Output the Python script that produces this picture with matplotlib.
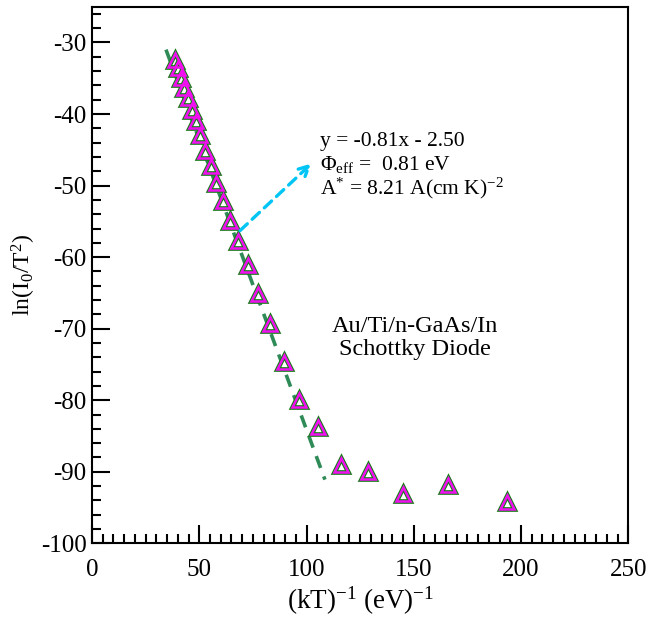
import matplotlib
matplotlib.use("Agg")
import matplotlib.pyplot as plt
from matplotlib.ticker import MultipleLocator

plt.rcParams["font.family"] = ["Liberation Serif", "DejaVu Serif"]
plt.rcParams["mathtext.fontset"] = "custom"
plt.rcParams["mathtext.rm"] = "Liberation Serif"
plt.rcParams["mathtext.it"] = "Liberation Serif:italic"
plt.rcParams["axes.unicode_minus"] = False

# (kT)^-1 in (eV)^-1
inv_kt = [38.7, 40.0, 41.4, 43.0, 44.6, 46.4, 48.4, 50.5, 52.7, 55.3,
          58.0, 61.1, 64.5, 68.3, 72.5, 77.4, 82.9, 89.3, 96.7, 105.5,
          116.0, 128.9, 145.1, 165.8, 193.4]
# ln(I0/T^2)
ln_i0 = [-32.4, -33.6, -34.9, -36.3, -37.8, -39.4, -41.0, -43.0, -45.1, -47.2,
         -49.7, -52.1, -54.9, -57.7, -61.1, -65.2, -69.3, -74.6, -79.9, -83.7,
         -89.0, -90.1, -93.1, -91.8, -94.2]

# linear fit line ends
fit_x = [34.5, 108.6]
fit_y = [-31.0, -91.1]

# arrow from data to fit text
arrow_start = (69.0, -56.3)
arrow_end = (102.4, -46.9)

fig = plt.figure(figsize=(6.5, 6.21), dpi=100)
ax = fig.add_axes([0.1415, 0.1251, 0.8251, 0.8641])

ax.plot(fit_x, fit_y, color="#2E8B57", linewidth=2.6, linestyle=(0, (3.5, 2.5)), zorder=2)

ax.plot(inv_kt, ln_i0, linestyle="none", marker="^", markersize=9.5,
        markerfacecolor="white", markeredgecolor="#1A7A1A", markeredgewidth=3.4, zorder=3)
ax.plot(inv_kt, ln_i0, linestyle="none", marker="^", markersize=9.5,
        markerfacecolor="none", markeredgecolor="#F010F0", markeredgewidth=1.8, zorder=4)

ax.annotate("", xy=arrow_end, xytext=arrow_start,
            arrowprops=dict(arrowstyle="->", color="#00C5F5", lw=2.4,
                            linestyle=(0, (3, 2)), mutation_scale=18, shrinkA=0, shrinkB=0))

ax.text(106.5, -44.4, "y = -0.81x - 2.50", fontsize=15.5, va="baseline")
ax.text(106.5, -47.8, r"$\Phi_{\rm eff}$ =  0.81 eV", fontsize=15.5, va="baseline")
ax.text(106.5, -51.2, r"A$^{*}$ = 8.21 A(cm K)$^{-2}$", fontsize=15.5, va="baseline")

ax.text(150.5, -71.3, "Au/Ti/n-GaAs/In\nSchottky Diode", fontsize=17.5,
        ha="center", va="center", linespacing=1.1)

ax.set_xlim(0, 250)
ax.set_ylim(-100, -25)
ax.xaxis.set_major_locator(MultipleLocator(50))
ax.xaxis.set_minor_locator(MultipleLocator(5))
ax.yaxis.set_major_locator(MultipleLocator(10))
ax.yaxis.set_minor_locator(MultipleLocator(2))
ax.set_yticks([-30, -40, -50, -60, -70, -80, -90, -100])

ax.tick_params(which="both", direction="in", top=False, right=False, width=1.5)
ax.tick_params(which="major", length=13, labelsize=18)
ax.tick_params(which="minor", length=6.5)
ax.tick_params(axis="x", which="major", pad=11)
ax.tick_params(axis="y", which="major", pad=4)
for s in ax.spines.values():
    s.set_linewidth(1.5)

ax.set_xlabel(r"(kT)$^{-1}$ (eV)$^{-1}$", fontsize=19.5, labelpad=3)
ax.set_ylabel(r"ln(I$_0$/T$^2$)", fontsize=17, labelpad=2)

fig.savefig("out.png", dpi=100)
